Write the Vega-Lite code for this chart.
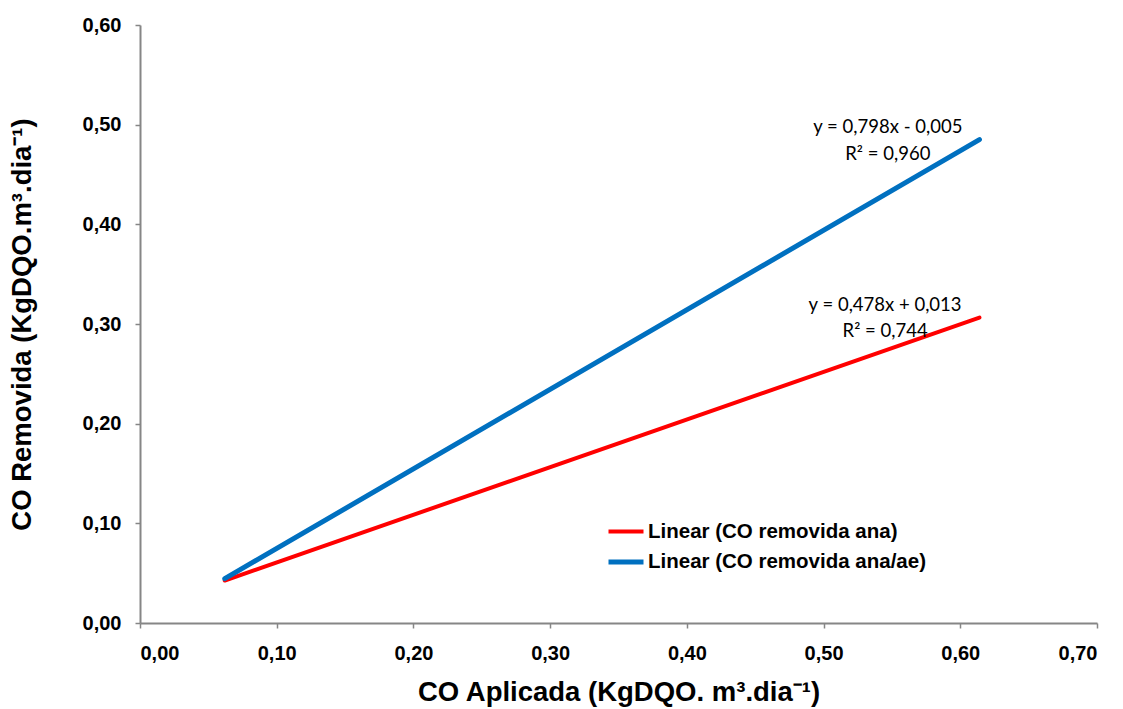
{
  "$schema": "https://vega.github.io/schema/vega-lite/v6.json",
  "width": 957,
  "height": 598,
  "autosize": "none",
  "padding": {"left": 140, "top": 25, "right": 26, "bottom": 86},
  "background": "white",
  "config": {
    "view": {"stroke": null},
    "locale": {"number": {"decimal": ",", "thousands": ".", "grouping": [3], "currency": ["", ""]}},
    "font": "Liberation Sans"
  },
  "datasets": {
    "lines": [
      {"serie": "Linear (CO removida ana)", "x": 0.062, "y": 0.0426},
      {"serie": "Linear (CO removida ana)", "x": 0.614, "y": 0.3065},
      {"serie": "Linear (CO removida ana/ae)", "x": 0.062, "y": 0.0445},
      {"serie": "Linear (CO removida ana/ae)", "x": 0.614, "y": 0.485}
    ],
    "labels": [
      {"x": 0.547, "y": 0.4977, "t": "y = 0,798x - 0,005"},
      {"x": 0.547, "y": 0.4706, "t": "R² = 0,960"},
      {"x": 0.545, "y": 0.3191, "t": "y = 0,478x + 0,013"},
      {"x": 0.545, "y": 0.2930, "t": "R² = 0,744"}
    ]
  },
  "layer": [
    {
      "data": {"name": "lines"},
      "mark": {"type": "line", "strokeCap": "round"},
      "encoding": {
        "x": {
          "field": "x", "type": "quantitative",
          "scale": {"domain": [0, 0.7], "nice": false, "zero": false},
          "axis": {
            "values": [0, 0.1, 0.2, 0.3, 0.4, 0.5, 0.6, 0.7],
            "format": ".2f",
            "grid": false,
            "domainColor": "#868686", "domainWidth": 2,
            "tickColor": "#868686", "tickWidth": 1.5, "tickSize": 5,
            "labelFont": "Liberation Sans", "labelFontWeight": "bold", "labelFontSize": 20, "labelColor": "#000000",
            "labelPadding": 15,
            "title": "CO Aplicada (KgDQO. m³.dia⁻¹)",
            "titleFont": "Liberation Sans", "titleFontWeight": "bold", "titleFontSize": 27.5, "titleColor": "#000000",
            "titleX": 478.5, "titleY": 69, "titleBaseline": "middle", "titleAlign": "center"
          }
        },
        "y": {
          "field": "y", "type": "quantitative",
          "scale": {"domain": [0, 0.6], "nice": false, "zero": false},
          "axis": {
            "values": [0, 0.1, 0.2, 0.3, 0.4, 0.5, 0.6],
            "format": ".2f",
            "grid": false,
            "domainColor": "#868686", "domainWidth": 2,
            "tickColor": "#868686", "tickWidth": 1.5, "tickSize": 5,
            "labelFont": "Liberation Sans", "labelFontWeight": "bold", "labelFontSize": 20, "labelColor": "#000000",
            "labelPadding": 14,
            "title": "CO Removida (KgDQO.m³.dia⁻¹)",
            "titleFont": "Liberation Sans", "titleFontWeight": "bold", "titleFontSize": 27.5, "titleColor": "#000000",
            "titleX": -118, "titleY": 299, "titleAngle": -90, "titleBaseline": "middle", "titleAlign": "center"
          }
        },
        "strokeWidth": {
          "field": "serie", "type": "nominal",
          "scale": {"domain": ["Linear (CO removida ana)", "Linear (CO removida ana/ae)"], "range": [4, 5]},
          "legend": null
        },
        "color": {
          "field": "serie", "type": "nominal",
          "scale": {"domain": ["Linear (CO removida ana)", "Linear (CO removida ana/ae)"], "range": ["#FF0000", "#0070C0"]},
          "legend": {
            "title": null,
            "orient": "none",
            "legendX": 466,
            "legendY": 487,
            "symbolType": "stroke",
            "symbolStrokeWidth": 3.5,
            "symbolSize": 1225,
            "labelFont": "Liberation Sans", "labelFontWeight": "bold", "labelFontSize": 20.5, "labelColor": "#000000",
            "labelOffset": 2,
            "labelLimit": 0,
            "rowPadding": -4
          }
        }
      }
    },
    {
      "data": {"name": "labels"},
      "mark": {"type": "text", "font": "Lato", "fontSize": 18.5, "color": "#000000", "align": "center", "baseline": "middle"},
      "encoding": {
        "x": {"field": "x", "type": "quantitative"},
        "y": {"field": "y", "type": "quantitative"},
        "text": {"field": "t"}
      }
    }
  ]
}
